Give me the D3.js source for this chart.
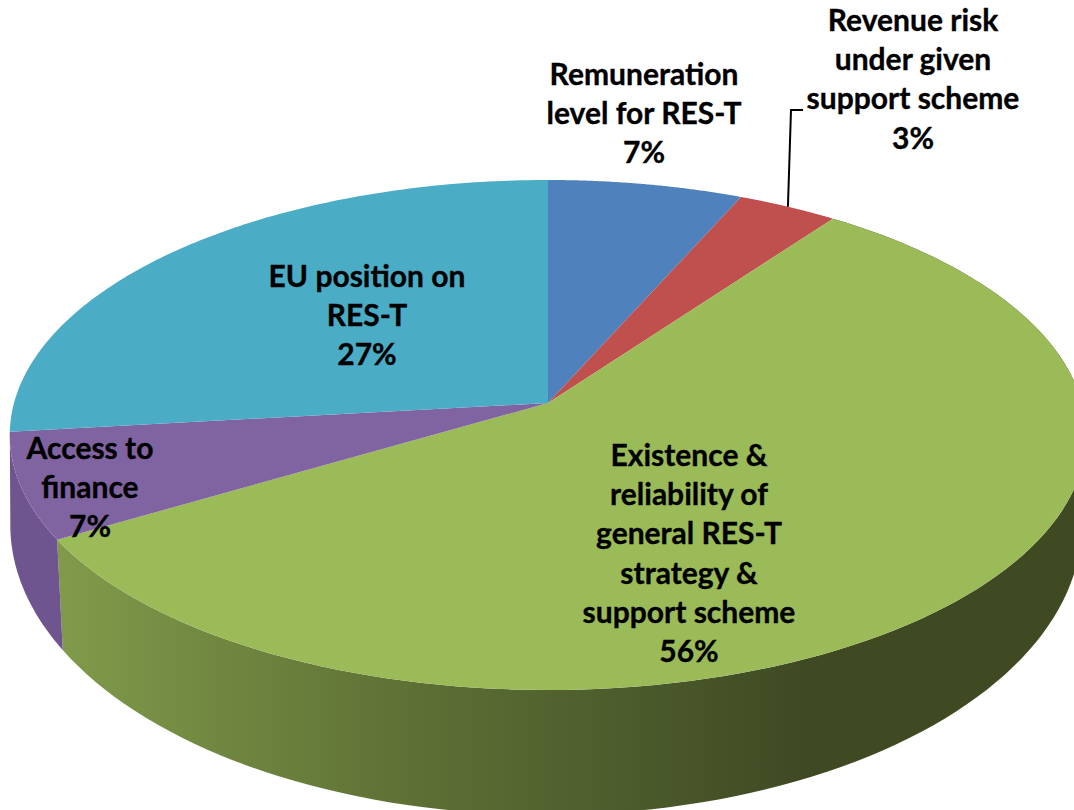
<!DOCTYPE html>
<html>
<head>
<meta charset="utf-8">
<style>
    html, body { margin: 0; padding: 0; background: #fff; }
    svg { display: block; }
    text { font-family: Lato, "Open Sans", sans-serif; font-weight: 700; font-size: 30px; fill: #000; stroke: #000; stroke-width: 0.35px; text-anchor: middle; }
</style>
</head>
<body>
<script src="https://cdn.jsdelivr.net/npm/d3@7"></script>
<script>
/* global d3 */

var categories = [
    ["Remuneration", "level for RES-T"],
    ["Revenue risk", "under given", "support scheme"],
    ["Existence &", "reliability of", "general RES-T", "strategy &", "support scheme"],
    ["Access to", "finance"],
    ["EU position on", "RES-T"]
];
var values    = [6.6, 3.4, 56.49, 6.71, 26.8];
var colors    = ["#4f81bd", "#c0504d", "#9bbb59", "#8064a2", "#4bacc6"];
var labelX    = [644, 913, 689, 90, 367];
var labelY    = [85, 31, 466, 459, 287];

var width  = 1074;
var height = 810;
var lineGap = 39.2;

var svg = d3.select("body").append("svg")
    .attr("width", width)
    .attr("height", height);

var pie = d3.pie().sort(null).value((d) => d);
var arcs = pie(values);

// tilted disc: rim point for an angle, with a perspective term k
var rim = (p) => (a) => {
    var u = Math.sin(a);
    var v = Math.cos(a);
    var w = 1 + p.k * v;
    return [p.cx + p.a * u / w, p.cy - p.b * v / w];
};
var topRim = rim({cx: 548, cy: 403, a: 534, b: 251, k: 0.1255});
var lowRim = rim({cx: 546, cy: 496, a: 533, b: 287, k: 0.1});

var angles = (a0, a1) => d3.range(0, 121).map((i) => a0 + (a1 - a0) * i / 120);
var line = d3.line();

var defs = svg.append("defs");
var grad = defs.append("linearGradient")
    .attr("id", "wall-green")
    .attr("gradientUnits", "userSpaceOnUse")
    .attr("x1", 0).attr("x2", width).attr("y1", 0).attr("y2", 0);
[[63, "#809a4a"], [400, "#5f7135"], [600, "#4e5e2d"], [800, "#3f4a23"], [1074, "#3f4a23"]]
    .forEach((s) => {
        grad.append("stop").attr("offset", s[0] / width).attr("stop-color", s[1]);
    });

// side walls first, the top faces then cover whatever is behind them
var wall = (d, fill) => {
    var as = angles(d.startAngle, d.endAngle);
    svg.append("path")
       .attr("d", line(as.map(topRim).concat(as.slice().reverse().map(lowRim))) + "Z")
       .attr("fill", fill);
};
wall(arcs[2], "url(#wall-green)");
wall(arcs[3], "#6e5590");

svg.append("g")
   .selectAll("path")
   .data(arcs)
   .enter().append("path")
   .attr("d", (d) => line([[548, 403]].concat(angles(d.startAngle, d.endAngle).map(topRim))) + "Z")
   .attr("fill", (d, i) => colors[i]);

// leader for the small slice
var leaderEnd = topRim((arcs[1].startAngle + arcs[1].endAngle) / 2);
svg.append("path")
   .attr("d", line([leaderEnd, [791, 110], [803, 110]]))
   .attr("fill", "none")
   .attr("stroke", "#000")
   .attr("stroke-width", 2);

var labels = svg.append("g")
    .selectAll("text")
    .data(categories)
    .enter().append("text")
    .attr("x", (d, i) => labelX[i])
    .attr("y", (d, i) => labelY[i]);

labels.selectAll("tspan")
      .data((d, i) => d.concat([Math.round(values[i]) + "%"]))
      .enter().append("tspan")
      .attr("x", function () { return d3.select(this.parentNode).attr("x"); })
      .attr("dy", (d, i) => i ? lineGap : 0)
      .text((d) => d);
</script>
</body>
</html>
